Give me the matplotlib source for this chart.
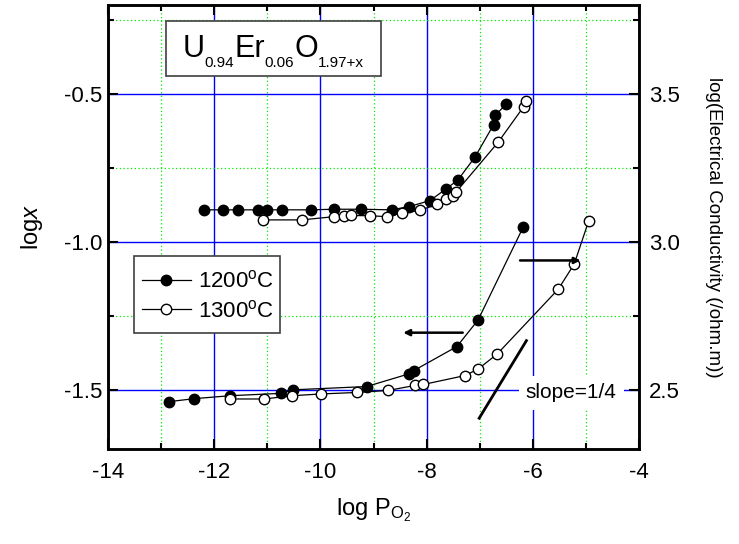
import matplotlib
matplotlib.use("Agg")
import matplotlib.pyplot as plt
from matplotlib.patches import Rectangle
from matplotlib.ticker import MultipleLocator, FormatStrFormatter
from matplotlib.transforms import IdentityTransform

plt.rcParams['font.family'] = ['Liberation Sans', 'DejaVu Sans']
plt.rcParams['mathtext.fontset'] = 'custom'
plt.rcParams['mathtext.rm'] = 'Liberation Sans'
plt.rcParams['mathtext.it'] = 'Liberation Sans:italic'
plt.rcParams['axes.unicode_minus'] = False

# ---- data (upper group: log x, left axis) ----
x_1200_up = [-12.19, -11.84, -11.56, -11.18, -11.01, -10.73, -10.18, -9.74, -9.24,
             -8.66, -8.33, -7.94, -7.63, -7.41, -7.09, -6.74, -6.71, -6.50]
y_1200_up = [-0.892, -0.892, -0.892, -0.892, -0.892, -0.892, -0.892, -0.890, -0.890,
             -0.892, -0.881, -0.861, -0.821, -0.791, -0.714, -0.605, -0.573, -0.535]
x_1300_up = [-11.09, -10.35, -9.74, -9.55, -9.43, -9.07, -8.75, -8.46, -8.12, -7.81,
             -7.63, -7.51, -7.45, -6.65, -6.17, -6.13]
y_1300_up = [-0.926, -0.926, -0.915, -0.912, -0.911, -0.912, -0.915, -0.903, -0.894,
             -0.873, -0.855, -0.845, -0.833, -0.663, -0.543, -0.523]

# ---- data (lower group: log conductivity, right axis) ----
x_1200_lo = [-12.85, -12.38, -11.70, -10.75, -10.51, -9.13, -8.33, -8.24, -7.43, -7.03, -6.18]
y_1200_lo = [2.460, 2.470, 2.480, 2.488, 2.500, 2.511, 2.554, 2.565, 2.646, 2.736, 3.050]
x_1300_lo = [-11.70, -11.06, -10.53, -9.99, -9.31, -8.72, -8.21, -8.06, -7.28, -7.03,
             -6.67, -5.52, -5.22, -4.95]
y_1300_lo = [2.469, 2.469, 2.480, 2.486, 2.491, 2.498, 2.515, 2.518, 2.548, 2.570,
             2.621, 2.840, 2.925, 3.069]

labels = ["1200$^{\\mathrm{o}}$C", "1300$^{\\mathrm{o}}$C"]
title_parts = [("U", False), ("0.94", True), ("Er", False), ("0.06", True),
               ("O", False), ("1.97+x", True)]

# annotations (data coords, right axis)
slope_line_x = [-7.01, -6.12]
slope_line_y = [2.404, 2.666]
arrow_left = ((-7.32, 2.693), (-8.44, 2.693))
arrow_right = ((-6.24, 2.937), (-5.10, 2.937))

fig = plt.figure(figsize=(7.39, 5.44), dpi=100)
ax = fig.add_axes([108/739, 1-449/544, (639-108)/739, (449-5)/544])
ax2 = ax.twinx()

ax.set_xlim(-14, -4)
ax.set_ylim(-1.7, -0.2)
ax2.set_ylim(2.3, 3.8)

ax.xaxis.set_major_locator(MultipleLocator(2))
ax.xaxis.set_minor_locator(MultipleLocator(1))
ax.yaxis.set_major_locator(MultipleLocator(0.5))
ax.yaxis.set_minor_locator(MultipleLocator(0.25))
ax2.yaxis.set_major_locator(MultipleLocator(0.5))
ax2.yaxis.set_minor_locator(MultipleLocator(0.25))
ax.yaxis.set_major_formatter(FormatStrFormatter('%.1f'))
ax2.yaxis.set_major_formatter(FormatStrFormatter('%.1f'))

ax.grid(which='major', color='#0000ff', lw=1.0, ls='-', zorder=0)
ax.grid(which='minor', color='#00ee00', lw=0.9, ls=(0, (1, 2)), zorder=0)
ax.set_axisbelow(True)

ax.tick_params(axis='both', which='major', direction='in', length=7, width=1.5,
               labelsize=16, top=True, right=False, pad=4)
ax.tick_params(axis='both', which='minor', direction='in', length=4, width=1.5,
               top=True, right=False)
ax.tick_params(axis='x', which='major', pad=9)
ax2.tick_params(axis='y', which='major', direction='in', length=7, width=1.5,
                labelsize=16, pad=7)
ax2.tick_params(axis='y', which='minor', direction='in', length=4, width=1.5)
for a in (ax, ax2):
    for s in a.spines.values():
        s.set_linewidth(1.8)

mk = dict(marker='o', ms=7.5, color='black', lw=0.9, mec='black', mew=1.0)
h1, = ax.plot(x_1200_up, y_1200_up, mfc='black', label=labels[0], **mk)
h2, = ax.plot(x_1300_up, y_1300_up, mfc='white', label=labels[1], **mk)
ax2.plot(x_1200_lo, y_1200_lo, mfc='black', **mk)
ax2.plot(x_1300_lo, y_1300_lo, mfc='white', **mk)

# title box
box_x0, box_y0, box_w, box_h = -12.91, -0.439, 4.05, 0.186
ax.add_patch(Rectangle((box_x0, box_y0), box_w, box_h, fc='white', ec='#404040',
                       lw=1.2, zorder=3))

# legend frame (drawn separately) and frameless legend inside
ax.add_patch(Rectangle((0.049, 0.262), 0.274, 0.173, transform=ax.transAxes,
                       fc='white', ec='#404040', lw=1.2, zorder=3))
leg = ax.legend(handles=[h1, h2], loc='center left', bbox_to_anchor=(0.064, 0.344),
                borderaxespad=0, borderpad=0, fontsize=16, frameon=False,
                handlelength=2.2, handletextpad=0.33, labelspacing=0.35)
leg.set_zorder(4)

# slope line and arrows
ax2.plot(slope_line_x, slope_line_y, color='black', lw=2)
for (start, end) in (arrow_left, arrow_right):
    ax2.annotate("", xy=end, xytext=start,
                 arrowprops=dict(arrowstyle='-|>', lw=1.8, color='black',
                                 mutation_scale=9, shrinkA=0, shrinkB=0))
ax2.text(-6.13, 2.49, "slope=1/4", fontsize=15, ha='left', va='center',
         bbox=dict(boxstyle='square,pad=0.35', fc='white', ec='none'))

ax.set_xlabel("log P$_{\\mathrm{O}_2}$", fontsize=17, labelpad=10)
ax.set_ylabel("log$\\it{x}$", fontsize=17, labelpad=14)
ax2.set_ylabel("log(Electrical Conductivity (/ohm.m))", fontsize=13.5,
               rotation=270, labelpad=18, va='bottom')

# compose title text with small, low subscripts
fig.canvas.draw()
renderer = fig.canvas.get_renderer()
(cx0, cy0) = ax.transData.transform((box_x0, box_y0))
(cx1, cy1) = ax.transData.transform((box_x0 + box_w, box_y0 + box_h))
cxm, cym = (cx0 + cx1) / 2, (cy0 + cy1) / 2
pieces = []
for txt, sub in title_parts:
    t = fig.text(0, 0, txt, fontsize=11 if sub else 22, transform=IdentityTransform(),
                 va='baseline', ha='left', zorder=5)
    pieces.append((t, sub))
widths = [t.get_window_extent(renderer).width for t, _ in pieces]
xpos = cxm - sum(widths) / 2
for (t, sub), w in zip(pieces, widths):
    t.set_position((xpos, cym - (18.5 if sub else 8.5)))
    xpos += w

fig.savefig("out.png", dpi=100)
